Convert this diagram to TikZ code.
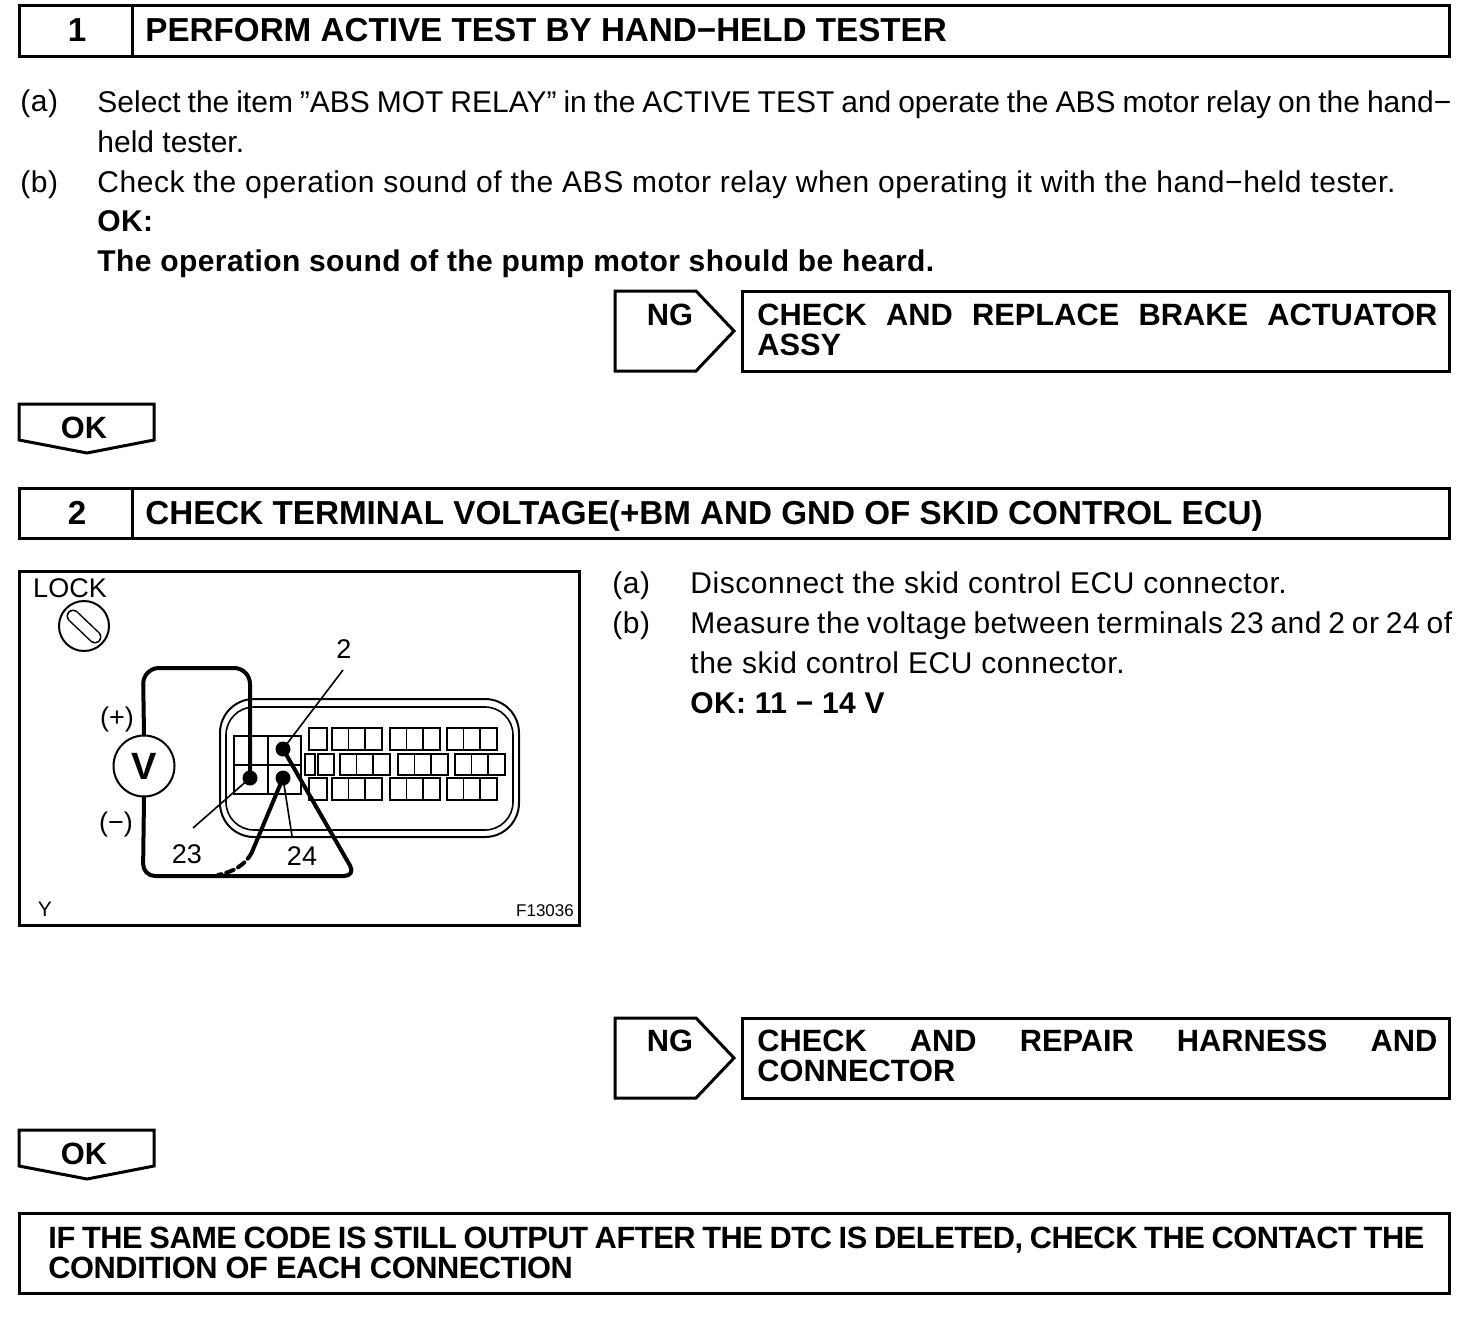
\documentclass[tikz,border=0pt]{standalone}
\usepackage{fontspec}
\setmainfont{Liberation Sans}
\newfontfamily\spacedfont[LetterSpace=1.8]{Liberation Sans}
\newfontfamily\boldspaced[LetterSpace=1.4]{Liberation Sans}
\newfontfamily\tightfont[LetterSpace=-1.5]{Liberation Sans}
\begin{document}
\begin{tikzpicture}[x=0.5pt, y=-0.5pt, frame/.style={line width=1.5pt, line join=miter}, thin line/.style={line width=0.8pt}, wire/.style={line width=2pt, line cap=round}, cavity/.style={line width=0.8pt}, title/.style={anchor=base west, inner sep=0pt, font=\fontsize{16.6}{15}\selectfont\bfseries}, body/.style={anchor=base west, inner sep=0pt, font=\spacedfont\fontsize{15}{20}\selectfont}, boldbody/.style={body, font=\boldspaced\fontsize{15}{20}\selectfont\bfseries}, para/.style={body, anchor=north west, text width=#1, align=justify}, action/.style={anchor=north west, inner sep=0pt, text width=#1, align=justify, font=\fontsize{15.4}{15}\selectfont\bfseries}, tag/.style={anchor=base, inner sep=0pt, font=\fontsize{15.4}{15}\selectfont\bfseries}, callout/.style={anchor=base, inner sep=0pt, font=\fontsize{13.5}{15}\selectfont}, dot/.style={circle, fill=black, inner sep=0pt, minimum size=7.5pt}]
\useasboundingbox (0,0) rectangle (1472,1322);
% step 1
\draw[frame] (19,6) rectangle (1449.5,57) (132,6)--(132,57);
\node[title] (num1) at (77,42) [anchor=base] {1};
\node[title] (head1) at (145,42) {PERFORM ACTIVE TEST BY HAND−HELD TESTER};
\node[body] (a1) at (20,112) {(a)};
\node[para=677pt, font=\fontsize{15}{20}\selectfont] (a1text) at (97,90) {Select the item ”ABS MOT RELAY” in the ACTIVE TEST and operate the ABS motor relay on the hand−\linebreak held tester.};
\node[body] (b1) at (20,192) {(b)};
\node[body] (b1text) at (97,192) {Check the operation sound of the ABS motor relay when operating it with the hand−held tester.};
\node[boldbody] (ok1) at (97,231) {OK:};
\node[boldbody] (ok1text) at (97,271) {The operation sound of the pump motor should be heard.};
\draw[frame] (615,291)--(696,291)--(734,331)--(696,371)--(615,371)--cycle;
\node[tag] (ng1) at (670,325) {NG};
\draw[frame] (742,291) rectangle (1449.5,371);
\node[action=340pt] (fix1) at (757,304) {CHECK AND REPLACE BRAKE ACTUATOR\linebreak ASSY};
\draw[frame] (19,404)--(154,404)--(154,440)--(87,453)--(19,440)--cycle;
\node[tag] (pass1) at (84,438) {OK};
% step 2
\draw[frame] (19,488) rectangle (1449.5,538) (132,488)--(132,538);
\node[title] (num2) at (77,524) [anchor=base] {2};
\node[title] (head2) at (145,524) {CHECK TERMINAL VOLTAGE(+BM AND GND OF SKID CONTROL ECU)};
\draw[frame] (19,571) rectangle (579.5,925);
\node[callout] (lock) at (70,597) {LOCK};
\draw[line width=1pt] (84,626) circle (25);
\draw[line width=6.5pt, line cap=round] (73,616)--(95,637);
\draw[line width=5pt, line cap=round, white] (73,616)--(95,637);
% connector housing
\draw[line width=1pt, rounded corners=17pt] (220,699) rectangle (519,837);
\draw[line width=0.8pt, rounded corners=14pt] (226,707) rectangle (513,830);
\draw[line width=1pt] (234,736) rectangle (301,794) (234,765)--(301,765);
\draw[line width=1.3pt] (268,736)--(268,794);
\foreach \y/\h in {728/22,778/22}{
\draw[cavity] (309,\y) rectangle ++(18,\h);
\foreach \x in {332,390,447}{
\draw[cavity] (\x,\y) rectangle ++(50,\h) (\x+16.5,\y)--++(0,\h) (\x+33,\y)--++(0,\h);}}
\draw[cavity] (305,754) rectangle (315,775) (318,754) rectangle (334,775);
\foreach \x in {340,398,455}{
\draw[cavity] (\x,754) rectangle ++(50,21) (\x+16.5,754)--++(0,21) (\x+33,754)--++(0,21);}
% terminals and wires
\node[dot] (t23) at (250,778) {};
\node[dot] (t2) at (283,749) {};
\node[dot] (t24) at (283,778) {};
\node[circle, draw, line width=1pt, minimum size=30.5pt, inner sep=0pt, font=\fontsize{19}{20}\selectfont\bfseries] (volt) at (144,766) {V};
\coordinate (c1) at (143,668);
\coordinate (c2) at (250,668);
\coordinate (c3) at (143,876);
\coordinate (c4) at (356,876);
\coordinate (c5) at (218,875);
\coordinate (c6) at (252,852);
\draw[wire, rounded corners=8pt] (volt.north) -- (c1) -- (c2) -- (t23.center);
\draw[wire, rounded corners=6pt] (volt.south) -- (c3) -- (c4) -- (t2.center);
\draw[wire] (t24.center)--(c6);
\draw[wire, dashed, dash pattern=on 4pt off 2.5pt] (c6) .. controls (245,866) and (232,872) .. (c5);
\node[callout] (lbl2) at (344,658) {2};
\node[callout] (lbl23) at (187,863) {23};
\node[callout] (lbl24) at (302,865) {24};
\coordinate (e2) at (343,670);
\coordinate (e23) at (193,828);
\coordinate (e24) at (292,836);
\draw[thin line] (e2)--(t2.center);
\draw[thin line] (e23)--(t23.center);
\draw[thin line] (e24)--(t24.center);
\node[callout] (plus) at (117,726) {(+)};
\node[callout] (minus) at (116,831) {(−)};
\node[anchor=base, inner sep=0pt, font=\fontsize{10.5}{12}\selectfont] (ylabel) at (45,916) {Y};
\node[anchor=base, inner sep=0pt, font=\fontsize{8.5}{10}\selectfont] (figno) at (545,916) {F13036};
\node[body] (a2) at (612,593) {(a)};
\node[body] (a2text) at (690,593) {Disconnect the skid control ECU connector.};
\node[body] (b2) at (612,633) {(b)};
\node[para=381pt] (b2text) at (690,611) {Measure the voltage between terminals 23 and 2 or 24 of\linebreak the skid control ECU connector.};
\node[boldbody] (ok2) at (690,713) {OK: 11 − 14 V};
\draw[frame] (615,1018)--(696,1018)--(734,1058)--(696,1098)--(615,1098)--cycle;
\node[tag] (ng2) at (670,1051) {NG};
\draw[frame] (742,1018) rectangle (1449.5,1098);
\node[action=340pt] (fix2) at (757,1030) {CHECK AND REPAIR HARNESS AND\linebreak CONNECTOR};
\draw[frame] (19,1130)--(154,1130)--(154,1166)--(87,1179)--(19,1166)--cycle;
\node[tag] (pass2) at (84,1164) {OK};
\draw[frame] (19,1213) rectangle (1449.5,1293);
\node[action=688pt, font=\tightfont\fontsize{15.4}{15}\selectfont\bfseries] (final) at (48,1227) {IF THE SAME CODE IS STILL OUTPUT AFTER THE DTC IS DELETED, CHECK THE CONTACT THE\linebreak CONDITION OF EACH CONNECTION};
\end{tikzpicture}
\end{document}
